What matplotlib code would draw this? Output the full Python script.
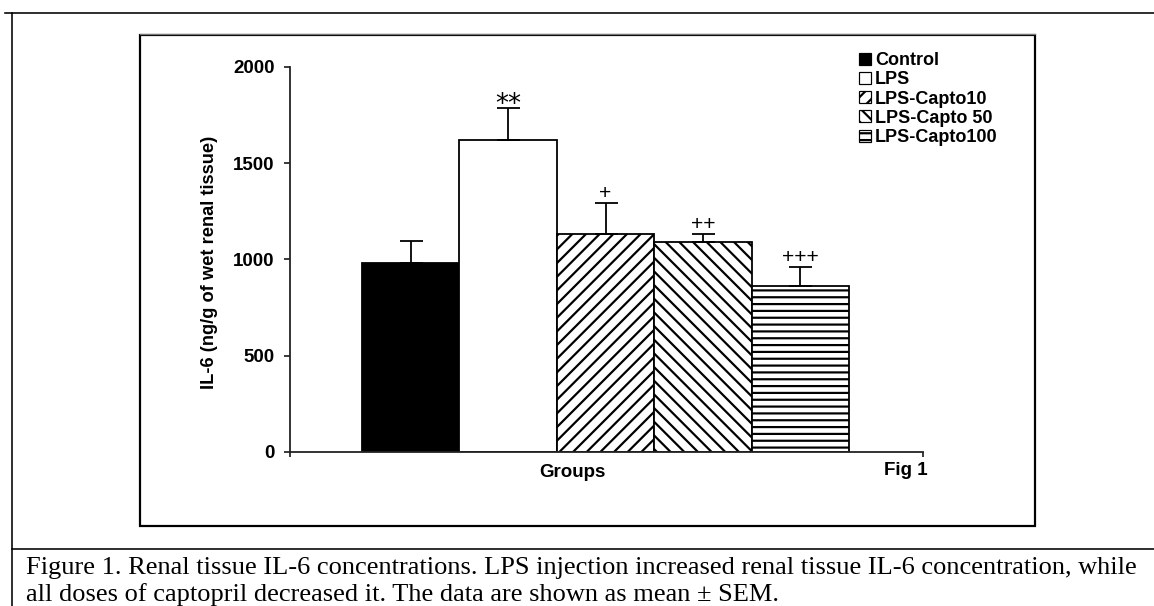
import numpy as np
import matplotlib
matplotlib.use("Agg")
import matplotlib.pyplot as plt
from matplotlib.patches import Patch, Rectangle
from matplotlib.lines import Line2D

# data (mean and upper SEM, ng/g of wet renal tissue)
groups = ['Control', 'LPS', 'LPS-Capto10', 'LPS-Capto 50', 'LPS-Capto100']
means = [981, 1619, 1131, 1088, 862]
sems = [112, 167, 160, 43, 100]
marks = ['', '**', '+', '++', '+++']
yticks = [0, 500, 1000, 1500, 2000]

faces = ['black', 'white', 'white', 'white', 'white']
hatches = ['', '', '//', '\\\\', '--']

W, H, DPI = 1154, 606, 82


def px(v):
    # pixels -> points at this dpi
    return v * 72 / DPI


def fx(x):
    return x / W


def fy(y):
    return 1 - y / H


plt.rcParams['font.family'] = ['Liberation Sans', 'DejaVu Sans']
plt.rcParams['hatch.linewidth'] = px(2.2)

fig = plt.figure(figsize=(W / DPI, H / DPI), dpi=DPI)
ax = fig.add_axes([fx(290), fy(452), fx(922.7) - fx(290), fy(66.7) - fy(452)])

x = np.arange(len(groups))
ax.bar(x, means, width=1.0, color=faces, edgecolor='black',
       hatch=hatches, linewidth=px(1.8), zorder=2)
ax.errorbar(x, means, yerr=[np.zeros(len(sems)), sems], fmt='none',
            ecolor='black', elinewidth=px(1.8), capsize=px(11.5),
            capthick=px(1.8), zorder=3)

for i, m in enumerate(marks):
    if not m:
        continue
    is_star = m.startswith('*')
    ax.annotate(m, xy=(x[i], means[i] + sems[i]),
                xytext=(0, px(-10 if is_star else 0)), textcoords='offset points',
                ha='center', va='bottom', fontsize=px(26 if is_star else 21),
                family='DejaVu Sans' if is_star else 'Liberation Sans')

ax.set_xlim(-1.24, 5.256)
ax.set_ylim(0, 2000)
ax.set_yticks(yticks, labels=[str(v) for v in yticks], fontweight='bold')
ax.set_xticks([-1.24, 5.256], labels=['', ''])
ax.tick_params(axis='y', direction='out', length=px(6), width=px(1.5),
               pad=px(9.5), labelsize=px(18.8))
ax.tick_params(axis='x', direction='out', length=px(5), width=px(1.5))
for side in ['top', 'right']:
    ax.spines[side].set_visible(False)
for side in ['left', 'bottom']:
    ax.spines[side].set_linewidth(px(1.8))
    ax.spines[side].set_color('#222222')

handles = [Patch(facecolor=f, edgecolor='black', hatch=h, linewidth=px(1.2))
           for f, h in zip(faces, hatches)]
fig.legend(handles, groups, loc='upper left',
           bbox_to_anchor=(fx(859), fy(52)), frameon=False,
           prop={'weight': 'bold', 'size': px(18)},
           handlelength=0.65, handleheight=0.65, handletextpad=0.25,
           labelspacing=0.125, borderpad=0, borderaxespad=0)

fig.text(fx(210), fy(262.5), 'IL-6 (ng/g of wet renal tissue)', rotation=90,
         ha='center', va='center', fontsize=px(18.2), fontweight='bold')
fig.text(fx(572.5), fy(472.5), 'Groups', ha='center', va='center',
         fontsize=px(18.8), fontweight='bold')
fig.text(fx(905.7), fy(470.5), 'Fig 1', ha='center', va='center',
         fontsize=px(18.8), fontweight='bold')

# frame of the figure panel and the table it sits in
fig.add_artist(Rectangle((fx(140), fy(526)), fx(1035) - fx(140), fy(35) - fy(526),
                         transform=fig.transFigure, fill=False,
                         edgecolor='black', linewidth=px(2.2)))
fig.add_artist(Line2D([fx(140), fx(1035)], [fy(33.8), fy(33.8)],
                      color='#777777', linewidth=px(1.2)))
fig.add_artist(Line2D([fx(5), fx(W)], [fy(13), fy(13)], color='black', linewidth=px(1.6)))
fig.add_artist(Line2D([fx(12), fx(12)], [fy(13), fy(H)], color='black', linewidth=px(1.6)))
fig.add_artist(Line2D([fx(12), fx(W)], [fy(549), fy(549)], color='black', linewidth=px(1.6)))

cap_font = ['Liberation Serif', 'DejaVu Serif']
fig.text(fx(26), fy(574),
         'Figure 1. Renal tissue IL-6 concentrations. LPS injection increased '
         'renal tissue IL-6 concentration, while',
         ha='left', va='baseline', fontsize=px(26.4), family=cap_font)
fig.text(fx(26), fy(600.5),
         'all doses of captopril decreased it. The data are shown as mean \u00b1 SEM.',
         ha='left', va='baseline', fontsize=px(26.4), family=cap_font)

fig.savefig('out.png', dpi=DPI)
